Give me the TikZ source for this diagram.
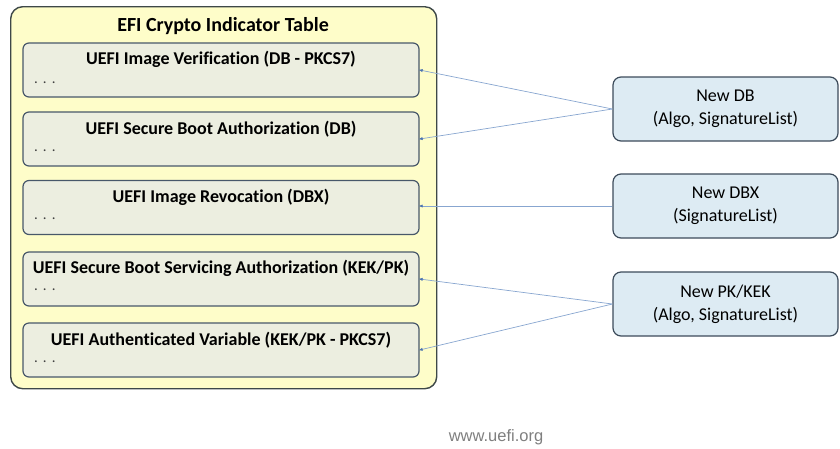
\documentclass[tikz,border=0pt]{standalone}
\usepackage{fontspec}
\setmainfont{Carlito}[Ligatures=NoCommon]
\newfontfamily\webfont{Liberation Sans}
\usetikzlibrary{arrows.meta}

\definecolor{tablefill}{HTML}{FEFDC9}
\definecolor{tableline}{HTML}{3E4848}
\definecolor{entryfill}{HTML}{ECEEE0}
\definecolor{entryline}{HTML}{48586A}
\definecolor{updfill}{HTML}{DDEBF3}
\definecolor{updline}{HTML}{3C4B5A}
\definecolor{linkline}{HTML}{88A6D0}
\definecolor{linktip}{HTML}{4A72B0}
\definecolor{webgray}{HTML}{7F7F7F}

\tikzset{
  tablebox/.style={draw=tableline, fill=tablefill, line width=1.4pt,
    rounded corners=12pt, minimum width=426pt, minimum height=382pt,
    inner sep=0pt, anchor=north west},
  entrybox/.style={draw=entryline, fill=entryfill, line width=1.2pt,
    rounded corners=6pt, minimum width=396pt, minimum height=54pt,
    inner sep=0pt},
  entrytitle/.style={font=\fontsize{18}{21}\selectfont\bfseries, inner sep=0pt},
  entrydots/.style={font=\fontsize{15}{17}\selectfont, text=black!75, inner sep=0pt, anchor=base west},
  updbox/.style={draw=updline, fill=updfill, line width=1.2pt,
    rounded corners=8pt, minimum width=225pt, minimum height=64pt,
    inner sep=0pt, align=center, font=\fontsize{18}{23}\selectfont},
  link/.style={draw=linkline, line width=0.7pt,
    -{Latex[length=4pt,width=3.2pt,color=linktip]}, shorten >=-1pt},
}

\newcommand{\entrydotsrow}{.\hspace{5pt}.\hspace{5pt}.}

\begin{document}
\begin{tikzpicture}[x=1pt, y=-1pt]
\useasboundingbox (0,0) rectangle (840,448);

% outer table
\node[tablebox] (table) at (10,6) {};
\node[font=\fontsize{20}{24}\selectfont\bfseries, inner sep=0pt] (ttitle) at (223,26) {EFI Crypto Indicator Table};

% table entries
\node[entrybox] (b1) at (221,70) {};
\node[entrybox] (b2) at (221,139) {};
\node[entrybox] (b3) at (221,207.5) {};
\node[entrybox] (b4) at (221,279) {};
\node[entrybox] (b5) at (221,350) {};

\node[entrytitle] (t1) at (221,59) {UEFI Image Verification (DB - PKCS7)};
\node[entrytitle] (t2) at (221,129) {UEFI Secure Boot Authorization (DB)};
\node[entrytitle] (t3) at (221,197) {UEFI Image Revocation (DBX)};
\node[entrytitle] (t4) at (221,268) {UEFI Secure Boot Servicing Authorization (KEK/PK)};
\node[entrytitle] (t5) at (221,340) {UEFI Authenticated Variable (KEK/PK - PKCS7)};

\node[entrydots] (d1) at (34,83) {\entrydotsrow};
\node[entrydots] (d2) at (34,151) {\entrydotsrow};
\node[entrydots] (d3) at (34,219) {\entrydotsrow};
\node[entrydots] (d4) at (34,290) {\entrydotsrow};
\node[entrydots] (d5) at (34,362) {\entrydotsrow};

% update payloads
\node[updbox] (ndb) at (725.5,109) {New DB\\(Algo, SignatureList)};
\node[updbox] (ndbx) at (725.5,206) {New DBX\\(SignatureList)};
\node[updbox] (npk) at (725.5,304) {New PK/KEK\\(Algo, SignatureList)};

% links
\draw[link] (ndb.west) -- (b1.east);
\draw[link] (ndb.west) -- (b2.east);
\draw[link] (ndbx.west) -- (ndbx.west -| b3.east);
\draw[link] (npk.west) -- (b4.east);
\draw[link] (npk.west) -- (b5.east);

% footer
\node[font=\webfont\fontsize{16.5}{19}\selectfont, text=webgray, inner sep=0pt] (web) at (496,437) {www.uefi.org};
\end{tikzpicture}
\end{document}
